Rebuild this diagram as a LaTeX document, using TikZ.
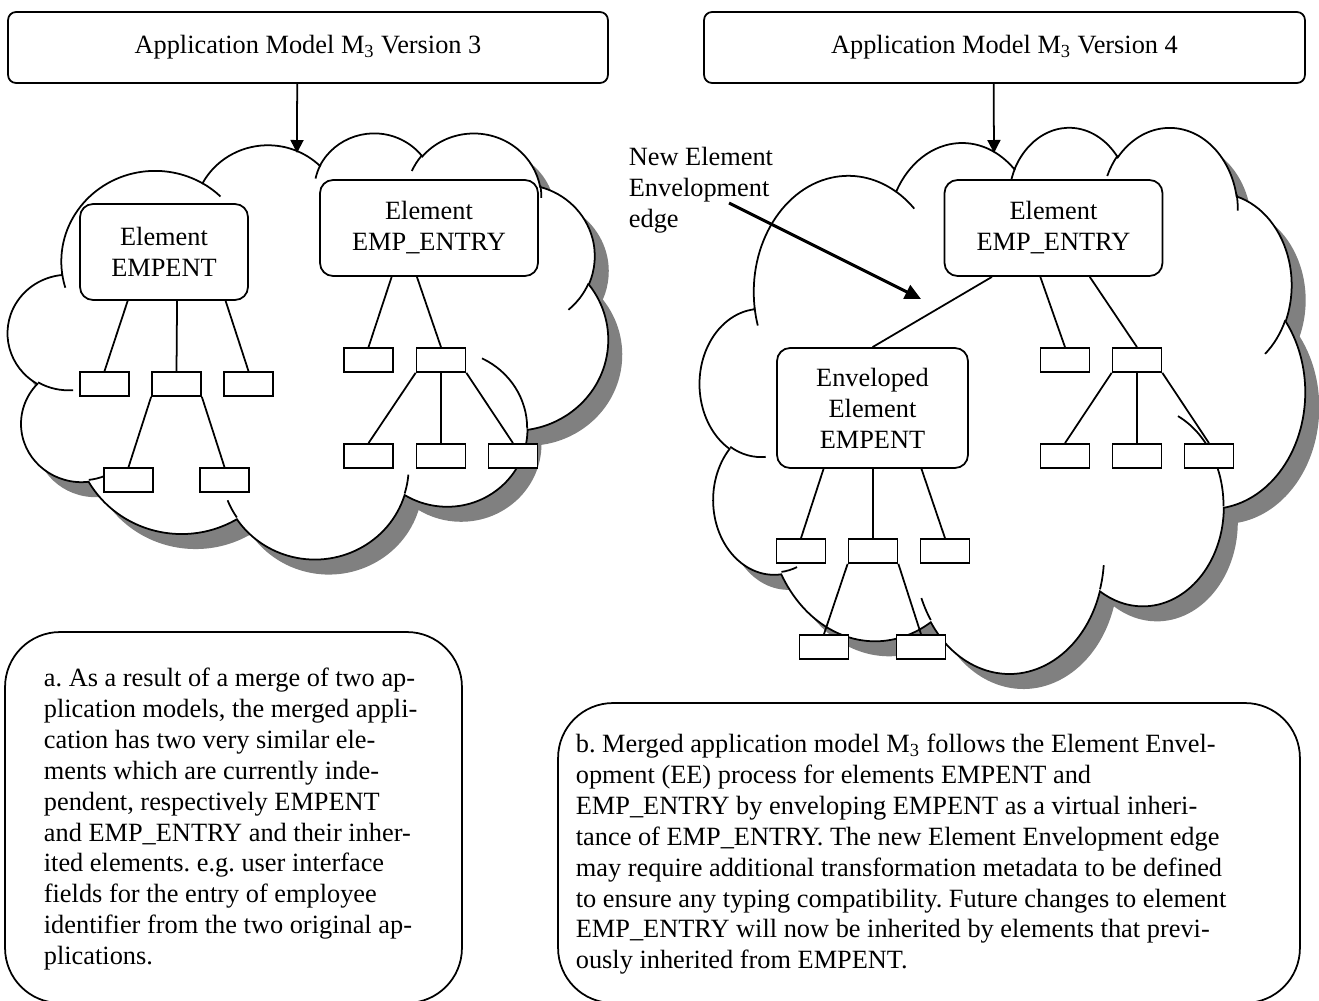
\documentclass[tikz,border=0pt]{standalone}
\usepackage{fontspec}
\setmainfont{Liberation Serif}
\usepackage{tikz}
\usetikzlibrary{arrows.meta}
\usetikzlibrary{calc}

\definecolor{cloudshade}{RGB}{128,128,128}

% one puff of the cloud: x radius, y radius, start angle, sweep
\newcommand\cloudarc[4]{arc[x radius={#1/432*0.02cm}, y radius={#2/432*0.02cm}, start angle={cpa(#1,#2,#3)}, delta angle={mod(cpa(#1,#2,#3+#4)-cpa(#1,#2,#3)+720,360)}]}

\tikzset{
  pics/cloudbody/.style={code={
    \path[pic actions] (9.0278,33.2639)
      \cloudarc{6753}{9190}{-190.4875}{123.7805}
      \cloudarc{5333}{7267}{-144.1024}{89.9452}
      \cloudarc{4365}{5945}{-145.8079}{99.7230}
      \cloudarc{4857}{6595}{-130.9861}{117.2417}
      \cloudarc{5333}{7273}{-78.7089}{109.0269}
      \cloudarc{6775}{9220}{-46.2673}{130.2690}
      \cloudarc{5785}{7867}{0.6250}{114.0333}
      \cloudarc{6752}{9215}{22.4516}{115.1726}
      \cloudarc{7720}{10543}{66.2426}{75.7110}
      \cloudarc{4360}{5918}{-274.9421}{146.7356}
      \cloudarc{4345}{5945}{-246.8285}{152.5189}
      -- cycle;
  }},
  pics/cloudfolds/.style={code={
    \path[pic actions]
      (10.8634,60.5949) \cloudarc{4345}{5945}{86.7420}{26.4295}
      (16.0370,80.7847) \cloudarc{4360}{5918}{73.6105}{11.4475}
      (38.1435,90.4861) \cloudarc{6752}{9215}{137.6242}{14.0811}
      (66.7292,80.4421) \cloudarc{6752}{9215}{6.4533}{15.9984}
      (79.0023,53.1343) \cloudarc{5785}{7867}{-70.2924}{70.9174}
      (96.7546,35.5417) \cloudarc{5333}{7273}{30.3180}{27.7515}
      (88.7130,12.5602) \cloudarc{4857}{6595}{-13.7443}{14.8589}
      (67.3102,9.1481) \cloudarc{4857}{6595}{-149.1815}{18.1954}
      (51.2523,10.9259) \cloudarc{4365}{5945}{-163.4943}{17.6864}
      (32.4074,12.0185) \cloudarc{6753}{9190}{-66.7070}{12.3194}
      (9.5532,36.5486) \cloudarc{6753}{9190}{157.6544}{11.8582};
  }}
}

\begin{document}
\begin{tikzpicture}[x=0.02cm, y=0.02cm, yscale=-1, line width=1pt,
  declare function={cpa(\rw,\rh,\ang)=atan2(\rw*sin(\ang),\rh*cos(\ang));},
  font=\fontsize{15}{17.6}\selectfont\frenchspacing]
\tikzstyle{header} = [draw, rounded corners=0.16cm, minimum height=1.42cm]
\tikzstyle{element} = [draw, fill=white, rounded corners=0.26cm, align=center, inner sep=0pt]
\tikzstyle{leaf} = [draw, fill=white, minimum width=0.98cm, minimum height=0.48cm, inner sep=0pt]
\tikzstyle{note} = [draw, rounded corners=1.1cm, inner sep=0pt]
\tikzstyle{notetext} = [anchor=north west, align=left, inner sep=0pt]
\tikzstyle{into} = [-{Triangle[length=0.26cm, width=0.26cm]}]
\useasboundingbox (0,0) rectangle (1319,1001);

\node[header, minimum width=12cm] (h1) at (308,47.5) {Application Model M\textsubscript{3} Version 3};
\node[header, minimum width=12.02cm] (h2) at (1004.5,47.5) {Application Model M\textsubscript{3} Version 4};

% clouds with their shadows
\pic[fill=cloudshade, xscale=6, yscale=-4.26] at (22,147) {cloudbody};
\pic[fill=cloudshade, xscale=6.05, yscale=-5.46] at (714,141) {cloudbody};
\pic[draw, fill=white, xscale=6, yscale=-4.26] at (8,132) {cloudbody};
\pic[draw, xscale=6, yscale=-4.26] at (8,132) {cloudfolds};
\pic[draw, fill=white, xscale=6.05, yscale=-5.46] at (700,126) {cloudbody};
\pic[draw, xscale=6.05, yscale=-5.46] at (700,126) {cloudfolds};

\coordinate (c1) at (297,153);
\coordinate (c2) at (994,153);
\draw[into] ($(h1.south west)!0.482!(h1.south east)$) -- (c1);
\draw[into] ($(h2.south west)!0.482!(h2.south east)$) -- (c2);

% version 3
\node[element, minimum width=3.36cm, minimum height=1.92cm] (e1) at (164,252) {Element\\EMPENT};
\node[leaf] (e1a) at (104.5,384) {};
\node[leaf] (e1b) at (176.5,384) {};
\node[leaf] (e1c) at (248.5,384) {};
\node[leaf] (e1ba) at (128.5,480) {};
\node[leaf] (e1bb) at (224.5,480) {};
\draw ($(e1.south west)!0.286!(e1.south east)$) -- (e1a.north);
\draw ($(e1.south west)!0.577!(e1.south east)$) -- (e1b.north);
\draw ($(e1.south west)!0.863!(e1.south east)$) -- (e1c.north);
\draw (e1b.south west) -- (e1ba.north);
\draw (e1b.south east) -- (e1bb.north);

\node[element, minimum width=4.36cm, minimum height=1.92cm] (p1) at (429,228) {Element\\EMP\_ENTRY};
\node[leaf] (p1a) at (368.5,360) {};
\node[leaf] (p1b) at (441,360) {};
\node[leaf] (p1ba) at (368.5,456) {};
\node[leaf] (p1bb) at (441,456) {};
\node[leaf] (p1bc) at (513,456) {};
\draw ($(p1.south west)!0.33!(p1.south east)$) -- (p1a.north);
\draw ($(p1.south west)!0.445!(p1.south east)$) -- (p1b.north);
\draw (p1b.south west) -- (p1ba.north);
\draw (p1b.south) -- (p1bb.north);
\draw (p1b.south east) -- (p1bc.north);

% version 4
\node[element, minimum width=4.36cm, minimum height=1.92cm] (p2) at (1053.5,228) {Element\\EMP\_ENTRY};
\node[leaf] (p2a) at (1065,360) {};
\node[leaf] (p2b) at (1137,360) {};
\node[leaf] (p2ba) at (1065,456) {};
\node[leaf] (p2bb) at (1137,456) {};
\node[leaf] (p2bc) at (1209,456) {};
\draw ($(p2.south west)!0.44!(p2.south east)$) -- (p2a.north);
\draw ($(p2.south west)!0.665!(p2.south east)$) -- (p2b.north);
\draw (p2b.south west) -- (p2ba.north);
\draw (p2b.south) -- (p2bb.north);
\draw (p2b.south east) -- (p2bc.north);

\node[element, minimum width=3.82cm, minimum height=2.4cm] (e2) at (872.5,408) {Enveloped\\Element\\EMPENT};
\node[leaf] (e2a) at (801,551) {};
\node[leaf] (e2b) at (873,551) {};
\node[leaf] (e2c) at (945,551) {};
\node[leaf] (e2ba) at (824,647) {};
\node[leaf] (e2bb) at (921,647) {};
\draw ($(e2.south west)!0.246!(e2.south east)$) -- (e2a.north);
\draw ($(e2.south west)!0.503!(e2.south east)$) -- (e2b.north);
\draw ($(e2.south west)!0.754!(e2.south east)$) -- (e2c.north);
\draw (e2b.south west) -- (e2ba.north);
\draw (e2b.south east) -- (e2bb.north);
\draw (e2.north) -- ($(p2.south west)!0.22!(p2.south east)$); % envelopment edge

\node[anchor=west, align=left, inner sep=0pt] (eelabel) at (628,190) {New Element\\Envelopment\\edge};
\coordinate (eetail) at (729,203);
\coordinate (eehead) at (921,299);
\draw[line width=1.7pt, -{Triangle[length=0.32cm, width=0.3cm]}] (eetail) -- (eehead);

\node[note, minimum width=9.14cm, minimum height=7.42cm] (na) at (233.5,817.5) {};
\node[notetext] (natext) at (43,667) {a. As a result of a merge of two ap-\\
plication models, the merged appli-\\
cation has two very similar ele-\\
ments which are currently inde-\\
pendent, respectively EMPENT\\
and EMP\_ENTRY and their inher-\\
ited elements. e.g. user interface\\
fields for the entry of employee\\
identifier from the two original ap-\\
plications.};
\node[note, minimum width=14.84cm, minimum height=6cm] (nb) at (929,853) {};
\node[notetext] (nbtext) at (575,733) {b. Merged application model M\textsubscript{3} follows the Element Envel-\\
opment (EE) process for elements EMPENT and\\
EMP\_ENTRY by enveloping EMPENT as a virtual inheri-\\
tance of EMP\_ENTRY. The new Element Envelopment edge\\
may require additional transformation metadata to be defined\\
to ensure any typing compatibility. Future changes to element\\
EMP\_ENTRY will now be inherited by elements that previ-\\
ously inherited from EMPENT.};
\end{tikzpicture}
\end{document}
